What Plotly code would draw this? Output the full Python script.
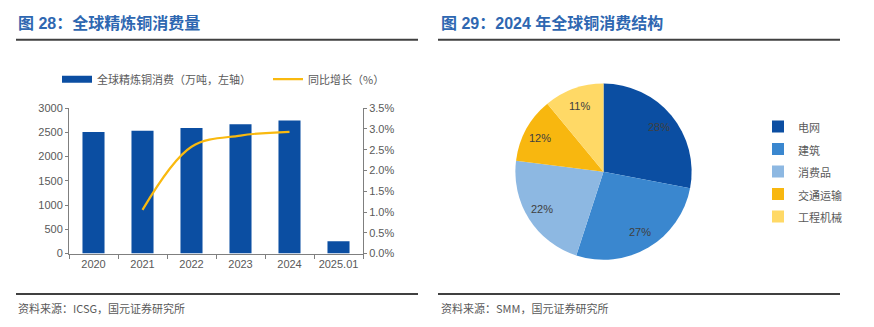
import math
import plotly.graph_objects as go

W, H = 874, 327

years = ["2020", "2021", "2022", "2023", "2024", "2025.01"]
consumption = [2506, 2532, 2591, 2669, 2747, 253]
growth_years = ["2021", "2022", "2023", "2024"]
growth = [1.05, 2.57, 2.84, 2.93]

pie_labels = ["电网", "建筑", "消费品", "交通运输", "工程机械"]
pie_values = [28, 27, 22, 12, 11]
pie_colors = ["#0B4EA2", "#3A87CF", "#8DB8E2", "#F8B70F", "#FFD966"]

left_ticks = [0, 500, 1000, 1500, 2000, 2500, 3000]
right_ticks = [0, 0.5, 1.0, 1.5, 2.0, 2.5, 3.0, 3.5]
right_ticktext = [f"{v:.1f}%" for v in right_ticks]

FONT = "Liberation Sans, Noto Sans CJK SC, sans-serif"
CJK = "Noto Sans CJK SC, sans-serif"
GRAY = "#595959"
AX = "#7f7f7f"
BAR_COLOR = "#0B4EA2"
LINE_COLOR = "#F9B90F"

def px(x):
    return x / W

def py(y):
    return 1 - y / H

# pie geometry (pixels)
PIE_CX, PIE_CY, PIE_R = 603.5, 172.0, 91.5

fig = go.Figure()
fig.add_trace(go.Bar(
    x=years, y=consumption, name="全球精炼铜消费（万吨，左轴）",
    marker=dict(color=BAR_COLOR, line=dict(width=0)),
    xaxis="x", yaxis="y", showlegend=False,
))
# legend swatch for the bars (wide flat rectangle like the original)
fig.add_trace(go.Scatter(
    x=[None], y=[None], name="全球精炼铜消费（万吨，左轴）", mode="lines",
    line=dict(color=BAR_COLOR, width=7), xaxis="x", yaxis="y",
    legend="legend", hoverinfo="skip",
))
fig.add_trace(go.Scatter(
    x=growth_years, y=growth, name="同比增长（%）", mode="lines",
    line=dict(color=LINE_COLOR, width=2.2, shape="spline", smoothing=1.0),
    xaxis="x", yaxis="y2", legend="legend",
))
fig.add_trace(go.Pie(
    labels=[f'<span style="font-size:11px">{l}</span>' for l in pie_labels],
    values=pie_values, sort=False, direction="clockwise",
    rotation=0, marker=dict(colors=pie_colors, line=dict(width=0)),
    textinfo="none",
    domain=dict(x=[px(PIE_CX - PIE_R), px(PIE_CX + PIE_R)],
                y=[py(PIE_CY + PIE_R), py(PIE_CY - PIE_R)]),
    legend="legend2", hoverinfo="label+percent",
))

fig.update_layout(
    width=W, height=H, margin=dict(l=0, r=0, t=0, b=0),
    paper_bgcolor="white", plot_bgcolor="white",
    font=dict(family=FONT, color=GRAY, size=11),
    bargap=0.55,
    xaxis=dict(
        domain=[px(69), px(363)], type="category",
        showline=True, linecolor=AX, linewidth=1,
        ticks="outside", ticklen=4, tickcolor=AX, tickson="boundaries",
        tickfont=dict(size=11, color=GRAY), showgrid=False,
    ),
    yaxis=dict(
        domain=[py(257), py(106)], range=[0, 3000], tickvals=left_ticks,
        showline=True, linecolor=AX, linewidth=1, ticks="outside",
        ticklen=3, tickcolor=AX, showgrid=False, zeroline=False,
        tickfont=dict(size=11, color=GRAY),
    ),
    yaxis2=dict(
        overlaying="y", side="right", anchor="x", range=[0, 3.5],
        tickvals=right_ticks, ticktext=right_ticktext,
        showline=True, linecolor=AX, linewidth=1, ticks="outside",
        ticklen=3, tickcolor=AX, showgrid=False, zeroline=False,
        tickfont=dict(size=11, color=GRAY),
    ),
    legend=dict(
        orientation="h", x=px(57), y=py(76), xanchor="left", yanchor="middle",
        font=dict(family=CJK, size=11, color=GRAY), bgcolor="rgba(0,0,0,0)",
        itemwidth=30, traceorder="normal", entrywidth=166,
    ),
    legend2=dict(
        orientation="v", x=px(758), y=py(172), xanchor="left", yanchor="middle",
        font=dict(family=CJK, size=15, color=GRAY), bgcolor="rgba(0,0,0,0)",
        traceorder="normal", itemwidth=30,
    ),
    showlegend=True,
)

# pie percentage labels, placed along each slice's mid-angle
total = sum(pie_values)
cum = 0
for v in pie_values:
    mid = (cum + v / 2) / total * 2 * math.pi
    cum += v
    rr = PIE_R * 0.79
    lx = PIE_CX + rr * math.sin(mid)
    ly = PIE_CY - rr * math.cos(mid)
    fig.add_annotation(text=f"{v}%", x=px(lx), y=py(ly), xref="paper", yref="paper",
                       xanchor="center", yanchor="middle", showarrow=False,
                       font=dict(family=FONT, size=11, color="#404040"))

title_font = dict(family="Liberation Sans, Noto Sans CJK SC, sans-serif", size=16, color="#2E67B1")
fig.add_annotation(text="<b>图 28：全球精炼铜消费量</b>", x=px(16), y=py(18),
                   xref="paper", yref="paper", xanchor="left", yanchor="middle",
                   showarrow=False, font=title_font)
fig.add_annotation(text="<b>图 29：2024 年全球铜消费结构</b>", x=px(439), y=py(18),
                   xref="paper", yref="paper", xanchor="left", yanchor="middle",
                   showarrow=False, font=title_font)

src_font = dict(family=CJK, size=11, color=GRAY)
fig.add_annotation(text="资料来源：ICSG，国元证券研究所", x=px(16), y=py(313),
                   xref="paper", yref="paper", xanchor="left", yanchor="middle",
                   showarrow=False, font=src_font)
fig.add_annotation(text="资料来源：SMM，国元证券研究所", x=px(439), y=py(313),
                   xref="paper", yref="paper", xanchor="left", yanchor="middle",
                   showarrow=False, font=src_font)

for x0, x1 in [(16, 418), (438, 840)]:
    fig.add_shape(type="line", xref="paper", yref="paper", x0=px(x0), x1=px(x1),
                  y0=py(35), y1=py(35), line=dict(color="#404040", width=2))
    fig.add_shape(type="line", xref="paper", yref="paper", x0=px(x0), x1=px(x1),
                  y0=py(299), y1=py(299), line=dict(color="#404040", width=2))

fig.write_html("out.html")
